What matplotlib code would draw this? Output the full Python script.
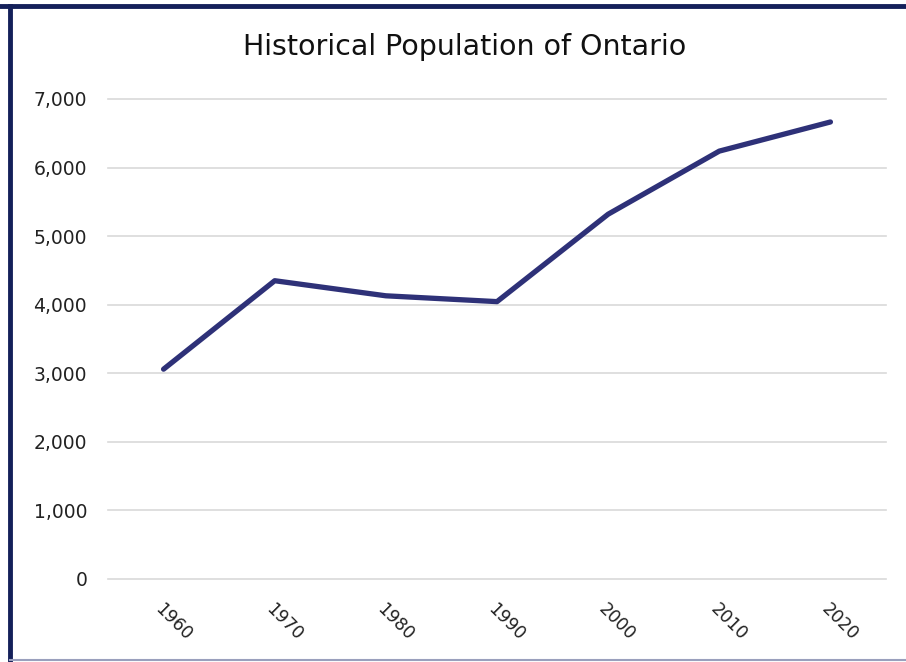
import matplotlib.pyplot as plt
from matplotlib.lines import Line2D

# Population (thousands) by census decade
years = ['1960', '1970', '1980', '1990', '2000', '2010', '2020']
population = [3060, 4350, 4130, 4045, 5320, 6240, 6665]
yticks = [0, 1000, 2000, 3000, 4000, 5000, 6000, 7000]

plt.rcParams['font.family'] = ['DejaVu Sans']

fig = plt.figure(figsize=(9.06, 6.62), dpi=100)
ax = fig.add_axes([108/906, 1 - 579/662, 778/906, 480/662])

x = range(len(years))
ax.plot(x, population, color='#2e3178', linewidth=3.8, solid_capstyle='round')

ax.set_xlim(-0.5, len(years) - 0.5)
ax.set_ylim(0, 7000)
ax.set_yticks(yticks)
ax.set_yticklabels([f'{v:,}' for v in yticks], fontsize=13.5, color='#222222')
ax.set_xticks(list(x))
ax.set_xticklabels(years, rotation=-45, ha='left', va='top', fontsize=12.5,
                   rotation_mode='anchor', color='#222222')
ax.tick_params(axis='y', length=0, pad=15)
ax.tick_params(axis='x', length=0, pad=15)

ax.grid(axis='y', color='#d9d9d9', linewidth=1.2)
for gl in ax.get_ygridlines():
    gl.set_clip_on(False)
ax.set_axisbelow(True)
for s in ax.spines.values():
    s.set_visible(False)

fig.text(465/906, 1 - 47/662, 'Historical Population of Ontario', ha='center',
         va='center', fontsize=20.5, color='#111111')

# frame around the chart
fig.add_artist(Line2D([0, 1], [1 - 6/662, 1 - 6/662], color='#14205a', linewidth=3.5))
fig.add_artist(Line2D([10/906, 10/906], [0, 1 - 6/662], color='#14205a', linewidth=3.5))
fig.add_artist(Line2D([10/906, 1], [1 - 660/662, 1 - 660/662], color='#9aa0bd', linewidth=1.5))

fig.savefig('out.png', dpi=100)
